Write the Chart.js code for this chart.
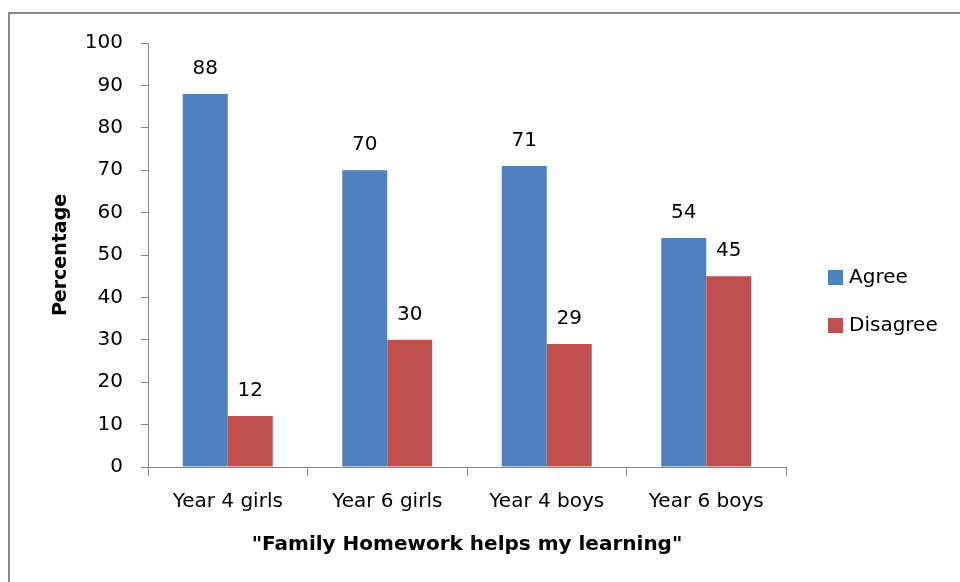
<!DOCTYPE html>
<html>
<head>
<meta charset="utf-8">
<script src="https://cdn.jsdelivr.net/npm/chart.js@4/dist/chart.umd.min.js"></script>
<style>
  html, body { margin: 0; padding: 0; background: #fff; overflow: hidden; }
  #wrap { position: relative; width: 960px; height: 582px; }
  #frame {
    position: absolute; left: 8px; top: 12px;
    width: 1000px; height: 1000px;
    border: 2px solid #898989;
  }
  #chart { position: absolute; left: 0; top: 0; }
</style>
</head>
<body>
<div id="wrap">
  <div id="frame"></div>
  <canvas id="chart" width="960" height="582"></canvas>
</div>
<script>
(function () {
    'use strict';

    // Values.
    var categories     = ['Year 4 girls', 'Year 6 girls', 'Year 4 boys', 'Year 6 boys'];
    var agreeValues    = [88, 70, 71, 54];
    var disagreeValues = [12, 30, 29, 45];
    var seriesNames    = ['Agree', 'Disagree'];
    var yTicks         = [0, 10, 20, 30, 40, 50, 60, 70, 80, 90, 100];

    var FONT   = '"DejaVu Sans", sans-serif';
    var AXIS   = '#868686';
    var TEXT   = '#000';
    var BLUE   = '#4F81BD';
    var RED    = '#C0504D';

    // Value labels above each bar.
    var valueLabels = {
        id: 'valueLabels',
        afterDatasetsDraw: function (chart) {
            var ctx = chart.ctx;
            ctx.save();
            ctx.font = '20px ' + FONT;
            ctx.fillStyle = TEXT;
            ctx.textAlign = 'center';
            ctx.textBaseline = 'alphabetic';
            chart.data.datasets.forEach(function (ds, i) {
                chart.getDatasetMeta(i).data.forEach(function (bar, j) {
                    ctx.fillText(String(ds.data[j]), bar.x, bar.y - 20);
                });
            });
            ctx.restore();
        }
    };

    // Legend on the right, drawn from the dataset labels and colours.
    var sideLegend = {
        id: 'sideLegend',
        afterDraw: function (chart) {
            var ctx = chart.ctx;
            var x = chart.chartArea.right + 42;
            var y = 277;
            ctx.save();
            ctx.font = '20px ' + FONT;
            ctx.textBaseline = 'middle';
            ctx.textAlign = 'left';
            chart.data.datasets.forEach(function (ds, i) {
                var cy = y + i * 48;
                ctx.fillStyle = ds.backgroundColor;
                ctx.fillRect(x, cy - 7, 15, 15);
                ctx.fillStyle = TEXT;
                ctx.fillText(ds.label, x + 21, cy + 1);
            });
            ctx.restore();
        }
    };

    var ctx = document.getElementById('chart').getContext('2d');
    new Chart(ctx, {
        type: 'bar',
        data: {
            labels: categories,
            datasets: [
                { label: seriesNames[0], data: agreeValues,    backgroundColor: BLUE },
                { label: seriesNames[1], data: disagreeValues, backgroundColor: RED }
            ]
        },
        options: {
            responsive: false,
            devicePixelRatio: 1,
            animation: false,
            layout: { padding: { left: 0, top: 43, right: 174, bottom: 0 } },
            datasets: { bar: { categoryPercentage: 0.564, barPercentage: 1.0 } },
            plugins: {
                legend: { display: false },
                tooltip: { enabled: false }
            },
            scales: {
                x: {
                    grid: { drawOnChartArea: false, tickLength: 9, color: AXIS },
                    border: { color: AXIS, width: 1 },
                    ticks: { color: TEXT, font: { family: FONT, size: 20 }, padding: 14 },
                    title: {
                        display: true,
                        text: '"Family Homework helps my learning"',
                        color: TEXT,
                        font: { family: FONT, size: 20, weight: 'bold' },
                        padding: { top: 0, bottom: 25 }
                    },
                    afterFit: function (scale) { scale.height = 115; }
                },
                y: {
                    min: 0,
                    max: 100,
                    afterBuildTicks: function (scale) {
                        scale.ticks = yTicks.map(function (v) { return { value: v }; });
                    },
                    grid: { drawOnChartArea: false, tickLength: 7, color: AXIS },
                    border: { color: AXIS, width: 1 },
                    ticks: { color: TEXT, font: { family: FONT, size: 20 }, padding: 18 },
                    title: {
                        display: true,
                        text: 'Percentage',
                        color: TEXT,
                        font: { family: FONT, size: 19, weight: 'bold' },
                        padding: { top: 50, bottom: 0 }
                    },
                    afterFit: function (scale) { scale.width = 148; }
                }
            }
        },
        plugins: [valueLabels, sideLegend]
    });
}());
</script>
</body>
</html>
